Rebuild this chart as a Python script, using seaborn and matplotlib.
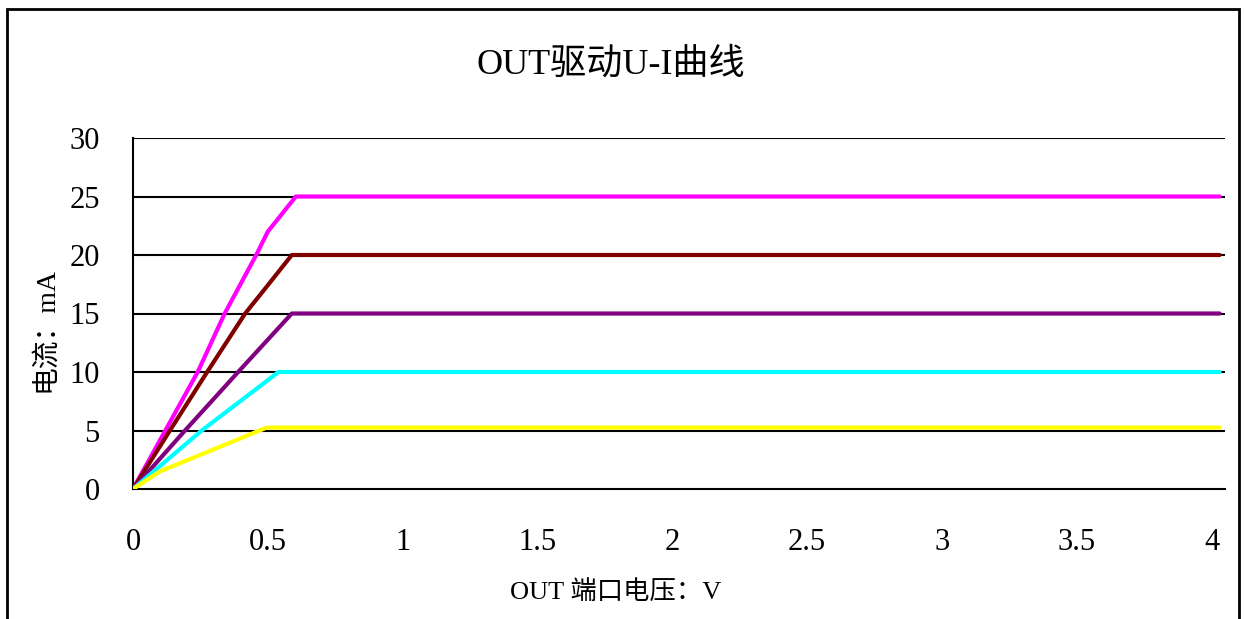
import numpy as np
import pandas as pd
import matplotlib
matplotlib.use('Agg')
import matplotlib.pyplot as plt
import seaborn as sns
from matplotlib.patches import Rectangle

# Данные: напряжение (В) и ток (мА) для каждой кривой
u_25 = [0, 0.12, 0.24, 0.34, 0.457, 0.5, 0.604, 4.03]
i_25 = [0, 5.0, 10.0, 15.0, 20.0, 22.0, 25.0, 25.0]
u_20 = [0, 0.137, 0.275, 0.416, 0.496, 0.589, 4.03]
i_20 = [0, 5.0, 10.0, 15.0, 17.3, 20.0, 20.0]
u_15 = [0, 0.193, 0.39, 0.589, 4.03]
i_15 = [0, 5.0, 10.0, 15.0, 15.0]
u_10 = [0, 0.255, 0.5, 0.539, 4.03]
i_10 = [0, 5.0, 9.3, 10.0, 10.0]
u_5 = [0, 0.1, 0.496, 4.03]
i_5 = [0, 1.5, 5.25, 5.25]

curve_names = ['25mA', '20mA', '15mA', '10mA', '5mA']
curve_colors = ['#FF00FF', '#800000', '#800080', '#00FFFF', '#FFFF00']

x_ticks = [0, 0.5, 1, 1.5, 2, 2.5, 3, 3.5, 4]
x_tick_labels = ['0', '0.5', '1', '1.5', '2', '2.5', '3', '3.5', '4']
y_ticks = [0, 5, 10, 15, 20, 25, 30]

rows = []
for name, us, cur in zip(curve_names, [u_25, u_20, u_15, u_10, u_5],
                         [i_25, i_20, i_15, i_10, i_5]):
    for u, i in zip(us, cur):
        rows.append({'U': u, 'I': i, 'curve': name})
df = pd.DataFrame(rows)

sns.set_style('white')
plt.rcParams['font.family'] = ['Liberation Serif', 'Noto Sans CJK SC', 'DejaVu Sans']
plt.rcParams['text.color'] = 'black'
plt.rcParams['axes.labelcolor'] = 'black'

fig = plt.figure(figsize=(12.45, 6.19), dpi=100)
ax = fig.add_axes([133 / 1245, 1 - 489 / 619, (1225 - 133) / 1245, (489 - 138) / 619])

sns.lineplot(data=df, x='U', y='I', hue='curve', hue_order=curve_names,
             palette=curve_colors, linewidth=3, legend=False, ax=ax,
             sort=False, estimator=None, zorder=3)

ax.set_xlim(0, 4.05)
ax.set_ylim(0, 30)
ax.set_xticks(x_ticks)
ax.set_xticklabels(x_tick_labels)
ax.set_yticks(y_ticks)

# Горизонтальная сетка
for y in y_ticks[1:]:
    ax.axhline(y, color='black', linewidth=1.5, zorder=1)

for s in ['top', 'right']:
    ax.spines[s].set_visible(False)
for s in ['left', 'bottom']:
    ax.spines[s].set_color('black')
    ax.spines[s].set_linewidth(1.5)

ax.tick_params(axis='x', direction='in', length=10, width=1.2, pad=28,
               labelsize=22, colors='black')
ax.tick_params(axis='y', length=0, pad=24, labelsize=22, colors='black')

ax.set_xlabel('OUT 端口电压：V', fontsize=19)
ax.set_ylabel('电流：mA', fontsize=20)
ax.xaxis.set_label_coords((616 - 133) / 1092, -(592 - 489) / 351)
ax.xaxis.label.set_va('center')
ax.yaxis.set_label_coords(-(133 - 45) / 1092, (489 - 329) / 351)
ax.yaxis.label.set_va('center')

fig.text(611 / 1245, 1 - 65 / 619, 'OUT驱动U-I曲线', ha='center', va='center', fontsize=26)

# Рамка вокруг рисунка
fig.patches.append(Rectangle((7 / 1245, -0.1), (1239 - 7) / 1245, 1.1 - 9 / 619,
                             transform=fig.transFigure, fill=False,
                             edgecolor='black', linewidth=2))

fig.savefig('out.png', dpi=100)
